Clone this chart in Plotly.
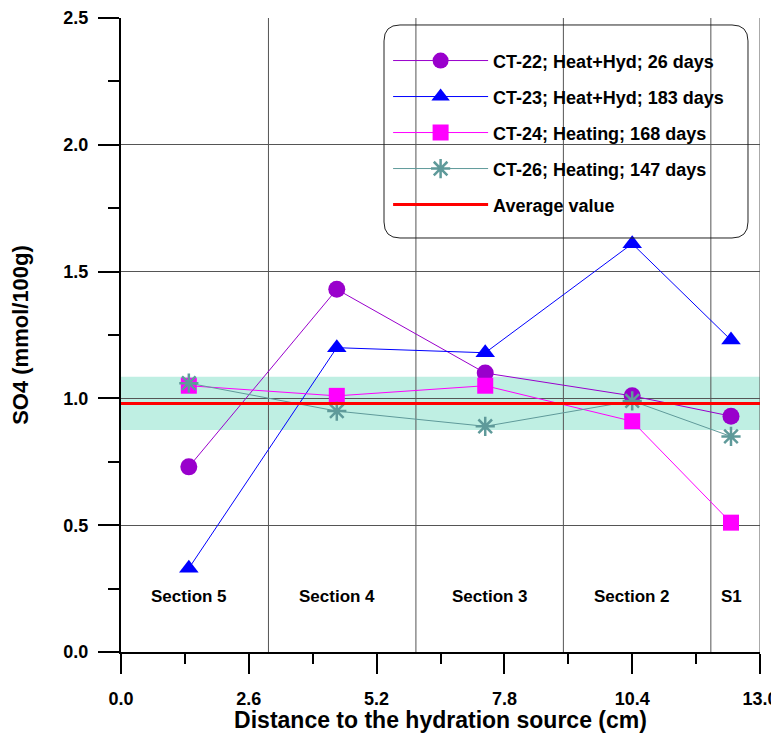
import plotly.graph_objects as go

x_pos = [1.38, 4.39, 7.41, 10.40, 12.41]
ct22 = [0.73, 1.43, 1.10, 1.01, 0.93]
ct23 = [0.33, 1.20, 1.18, 1.61, 1.23]
ct24 = [1.05, 1.01, 1.05, 0.91, 0.51]
ct26 = [1.06, 0.95, 0.89, 0.99, 0.85]
avg_value = 0.98
band_low, band_high = 0.875, 1.085
section_bounds = [3, 6, 9, 12, 13]
section_labels = ["Section 5", "Section 4", "Section 3", "Section 2", "S1"]
section_label_x = [1.38, 4.39, 7.5, 10.4, 12.41]
x_ticks = [0.0, 2.6, 5.2, 7.8, 10.4, 13.0]
y_ticks = [0.0, 0.5, 1.0, 1.5, 2.0, 2.5]

FONT = "Liberation Sans, Arial, sans-serif"

fig = go.Figure()

series = [
    ("CT-22; Heat+Hyd; 26 days", ct22, "#9900CC", "circle", 17),
    ("CT-23; Heat+Hyd; 183 days", ct23, "#0000FF", "triangle-up", 17),
    ("CT-24; Heating; 168 days", ct24, "#FF00FF", "square", 16),
]
for i, (name, vals, col, sym, sz) in enumerate(series):
    fig.add_trace(go.Scatter(
        x=x_pos, y=vals, name=f"<b>{name}</b>", mode="lines+markers",
        line=dict(color=col, width=1),
        marker=dict(symbol=sym, size=sz, color=col, line=dict(width=0)),
        legendgroup=f"g{i}",
    ))

fig.add_trace(go.Scatter(
    x=x_pos, y=ct26, name="<b>CT-26; Heating; 147 days</b>", mode="lines+markers",
    line=dict(color="#5F9A9A", width=1),
    marker=dict(symbol="asterisk-open", size=16, color="#5F9A9A",
                line=dict(width=2.5, color="#5F9A9A")),
    legendgroup="g3",
))

fig.add_trace(go.Scatter(
    x=[0, 13], y=[avg_value, avg_value], name="<b>Average value</b>", mode="lines",
    line=dict(color="#FF0000", width=3), legendgroup="g4",
))

shapes = []
shapes.append(dict(type="rect", xref="x", yref="y", x0=0, x1=13,
                   y0=band_low, y1=band_high, fillcolor="#BFEFE3",
                   line=dict(width=0), layer="below"))
for b in section_bounds:
    shapes.append(dict(type="line", xref="x", yref="y", x0=b, x1=b, y0=0, y1=2.5,
                       line=dict(color="#555555", width=1), layer="below"))

# rounded legend frame
x0, x1, y0, y1 = 0.4116, 0.9812, 0.653, 0.989
rx, ry = 0.025, 0.0252
path = (f"M {x0+rx},{y1} L {x1-rx},{y1} Q {x1},{y1} {x1},{y1-ry} "
        f"L {x1},{y0+ry} Q {x1},{y0} {x1-rx},{y0} L {x0+rx},{y0} "
        f"Q {x0},{y0} {x0},{y0+ry} L {x0},{y1-ry} Q {x0},{y1} {x0+rx},{y1} Z")
shapes.append(dict(type="path", xref="paper", yref="paper", path=path,
                   line=dict(color="#222222", width=1), fillcolor="rgba(0,0,0,0)"))

annotations = []
for lbl, lx in zip(section_labels, section_label_x):
    annotations.append(dict(x=lx, y=0.22, xref="x", yref="y", text=f"<b>{lbl}</b>",
                            showarrow=False, font=dict(family=FONT, size=17, color="black")))

fig.update_layout(
    width=779, height=725,
    margin=dict(l=113, r=27, t=10, b=81),
    plot_bgcolor="white", paper_bgcolor="white",
    font=dict(family=FONT, color="black"),
    shapes=shapes, annotations=annotations,
    showlegend=True,
    legend=dict(x=0.418, y=0.9616, xanchor="left", yanchor="top",
                bgcolor="rgba(0,0,0,0)", borderwidth=0,
                font=dict(family=FONT, size=18, color="black"),
                traceorder="grouped", tracegroupgap=9.6, itemwidth=95),
    xaxis=dict(range=[0, 13], tickvals=x_ticks, automargin=False,
               ticktext=[f"<b>{v:.1f}</b>" for v in x_ticks],
               ticks="outside", ticklen=20, tickwidth=2, tickcolor="black",
               ticklabelstandoff=9,
               minor=dict(dtick=1.3, tick0=0, ticks="outside", ticklen=10,
                          tickwidth=2, tickcolor="black", showgrid=False),
               showgrid=False, zeroline=False,
               showline=True, linecolor="black", linewidth=2,
               tickfont=dict(family=FONT, size=18, color="black"),
               title=dict(text="<b>Distance to the hydration source (cm)</b>",
                          font=dict(family=FONT, size=23, color="black"), standoff=1)),
    yaxis=dict(range=[0, 2.5], tickvals=y_ticks, automargin=False,
               ticktext=[f"<b>{v:.1f}</b>" for v in y_ticks],
               ticks="outside", ticklen=21, tickwidth=2, tickcolor="black",
               ticklabelstandoff=6,
               minor=dict(dtick=0.25, tick0=0, ticks="outside", ticklen=11,
                          tickwidth=2, tickcolor="black", showgrid=False),
               showgrid=True, gridcolor="#555555", gridwidth=1, zeroline=False,
               showline=True, linecolor="black", linewidth=2,
               tickfont=dict(family=FONT, size=18, color="black"),
               title=dict(text="<b>SO4 (mmol/100g)</b>",
                          font=dict(family=FONT, size=22, color="black"), standoff=29)),
)

fig.write_html("out.html")
